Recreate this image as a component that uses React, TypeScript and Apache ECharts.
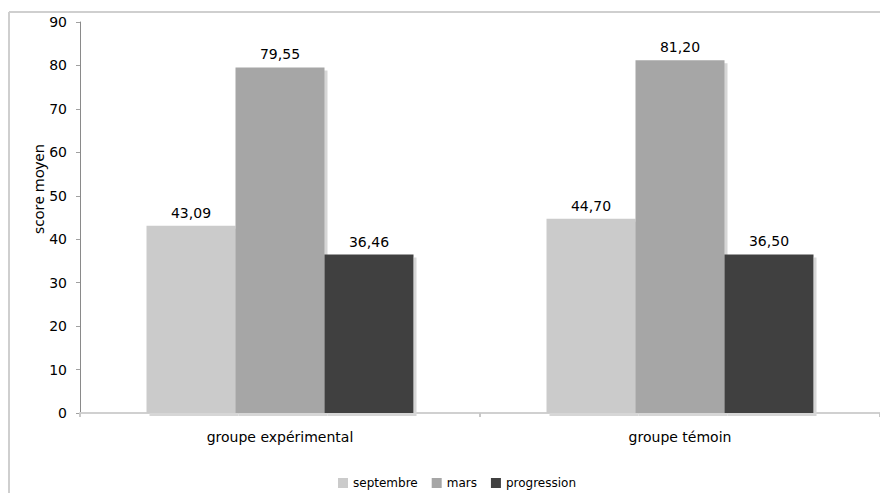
import React, { useEffect, useRef } from "react";
import * as echarts from "echarts";

const categories = ["groupe expérimental", "groupe témoin"];
const septembre = [43.09, 44.7];
const mars = [79.55, 81.2];
const progression = [36.46, 36.5];
const seriesNames = ["septembre", "mars", "progression"];
const seriesColors = ["#cbcbcb", "#a6a6a6", "#404040"];

const FONT = "DejaVu Sans";

const fmt = (v: number) => v.toFixed(2).replace(".", ",");

export default function App() {
  const ref = useRef<HTMLDivElement>(null);

  useEffect(() => {
    if (!ref.current) return;
    const chart = echarts.init(ref.current, undefined, { renderer: "svg" });

    const values = [septembre, mars, progression];
    const series = values.map((data, i) => ({
      name: seriesNames[i],
      type: "bar" as const,
      data,
      barWidth: 89,
      barGap: "0%",
      itemStyle: {
        color: seriesColors[i],
        shadowColor: "#d6d6d6",
        shadowOffsetX: 3,
        shadowOffsetY: 3,
        shadowBlur: 0,
      },
      label: {
        show: true,
        position: "top" as const,
        distance: 6,
        color: "#000",
        fontFamily: FONT,
        fontSize: 14,
        formatter: (p: any) => fmt(p.value),
      },
    }));

    chart.setOption({
      animation: false,
      backgroundColor: "#fff",
      grid: { left: 80, top: 22, right: -2, bottom: 80, containLabel: false },
      legend: {
        data: seriesNames,
        left: 336,
        top: 475,
        padding: 2,
        itemWidth: 10,
        itemHeight: 10,
        itemGap: 14,
        icon: "rect",
        textStyle: { fontFamily: FONT, fontSize: 12, color: "#000" },
      },
      xAxis: {
        type: "category",
        data: categories,
        axisLine: { lineStyle: { color: "#d0d0d0", width: 2 } },
        axisTick: { show: true, length: 4, lineStyle: { color: "#c8c8c8", width: 2 } },
        axisLabel: { margin: 17, color: "#000", fontFamily: FONT, fontSize: 14 },
      },
      yAxis: {
        type: "value",
        min: 0,
        max: 90,
        interval: 10,
        axisLine: { show: true, lineStyle: { color: "#8a8a8a", width: 1 } },
        axisTick: { show: true, length: 4, lineStyle: { color: "#a0a0a0" } },
        splitLine: { show: false },
        axisLabel: { margin: 13, color: "#000", fontFamily: FONT, fontSize: 14 },
      },
      graphic: [
        {
          type: "line",
          shape: { x1: 9, y1: 12, x2: 880, y2: 12 },
          style: { stroke: "#cfcfcf", lineWidth: 2 },
        },
        {
          type: "line",
          shape: { x1: 9, y1: 12, x2: 9, y2: 493 },
          style: { stroke: "#cfcfcf", lineWidth: 2 },
        },
        {
          type: "text",
          x: 38,
          y: 189,
          rotation: Math.PI / 2,
          style: {
            text: "score moyen",
            fill: "#000",
            font: `15px "Noto Sans"`,
            align: "center",
            verticalAlign: "middle",
          },
        },
      ],
      series,
    });

    return () => chart.dispose();
  }, []);

  return (
    <div
      ref={ref}
      style={{ position: "fixed", left: 0, top: 0, width: 880, height: 493 }}
    />
  );
}
